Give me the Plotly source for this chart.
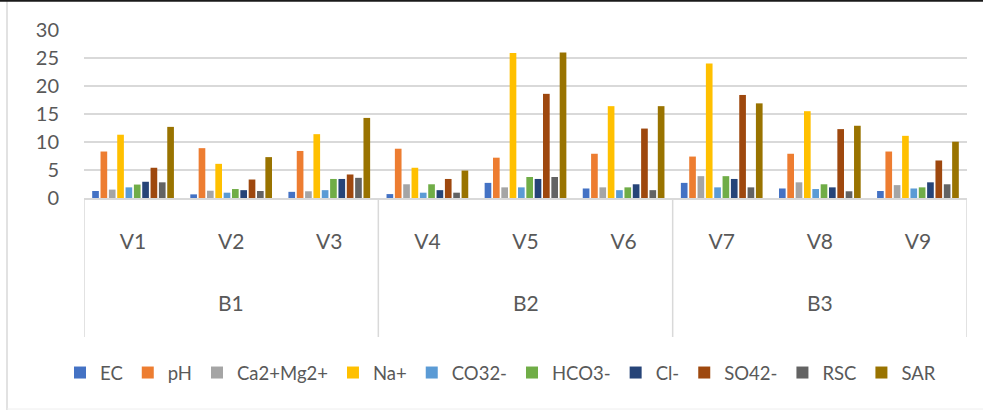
import plotly.graph_objects as go

varieties = ["V1", "V2", "V3", "V4", "V5", "V6", "V7", "V8", "V9"]
blocks = ["B1", "B2", "B3"]
block_centers = ["V2", "V5", "V8"]

EC = [1.25, 0.65, 1.1, 0.7, 2.7, 1.7, 2.7, 1.7, 1.25]
pH = [8.3, 8.9, 8.4, 8.8, 7.2, 7.9, 7.4, 7.9, 8.3]
CaMg = [1.5, 1.3, 1.2, 2.45, 1.9, 1.9, 3.9, 2.8, 2.3]
Na = [11.3, 6.1, 11.4, 5.4, 25.9, 16.4, 24.0, 15.5, 11.1]
CO3 = [1.9, 0.95, 1.4, 0.95, 1.9, 1.4, 1.9, 1.6, 1.7]
HCO3 = [2.4, 1.6, 3.4, 2.45, 3.75, 1.9, 3.9, 2.45, 1.9]
Cl = [2.9, 1.4, 3.4, 1.4, 3.4, 2.45, 3.4, 1.9, 2.8]
SO4 = [5.4, 3.3, 4.2, 3.4, 18.6, 12.4, 18.4, 12.3, 6.7]
RSC = [2.8, 1.25, 3.6, 0.95, 3.75, 1.4, 1.9, 1.2, 2.45]
SAR = [12.7, 7.3, 14.3, 4.9, 26.0, 16.4, 16.9, 12.9, 10.05]

series_names = ["EC", "pH", "Ca2+Mg2+", "Na+", "CO32-", "HCO3-", "Cl-", "SO42-", "RSC", "SAR"]
series_values = [EC, pH, CaMg, Na, CO3, HCO3, Cl, SO4, RSC, SAR]
colors = ["#4472C4", "#ED7D31", "#A5A5A5", "#FFC000", "#5B9BD5",
          "#70AD47", "#264478", "#9E480E", "#636363", "#997300"]

FONT = "Lato"
TXT = "#595959"
GRID = "#D9D9D9"

fig = go.Figure()
for name, vals, col in zip(series_names, series_values, colors):
    fig.add_trace(go.Bar(name=name, x=varieties, y=vals, marker_color=col,
                         marker_line_width=0))

W, H = 983, 410
L, R, T, B = 84, 16, 30, 212
ph = H - T - B
pw = W - L - R

def py(pixel_y):
    return (H - B - pixel_y) / ph

def px(pixel_x):
    return (pixel_x - L) / pw

shapes = []
# category group dividers
for xv in [-0.5, 2.5, 5.5, 8.5]:
    shapes.append(dict(type="line", xref="x", yref="paper", x0=xv, x1=xv,
                       y0=0, y1=py(337), line=dict(color=GRID, width=1.5)))
# chart border
shapes.append(dict(type="line", xref="paper", yref="paper", x0=px(7), x1=px(7),
                   y0=py(0), y1=py(410), line=dict(color=GRID, width=1.5)))
shapes.append(dict(type="line", xref="paper", yref="paper", x0=px(7), x1=px(990),
                   y0=py(409), y1=py(409), line=dict(color="#EEEEEE", width=1)))
shapes.append(dict(type="line", xref="paper", yref="paper", x0=px(0), x1=px(990),
                   y0=py(0.8), y1=py(0.8), line=dict(color="#1a1a1a", width=2)))

annotations = []
for bname, c in zip(blocks, block_centers):
    annotations.append(dict(text=bname, x=c, xref="x", y=py(302), yref="paper",
                            showarrow=False, yanchor="middle", xanchor="center",
                            font=dict(family=FONT, size=21, color=TXT)))

fig.update_layout(
    width=W, height=H,
    margin=dict(l=L, r=R, t=T, b=B, pad=0, autoexpand=False),
    paper_bgcolor="white", plot_bgcolor="white",
    barmode="group", bargap=0.15, bargroupgap=0.2,
    font=dict(family=FONT, color=TXT),
    shapes=shapes, annotations=annotations,
    legend=dict(orientation="h", xref="paper", x=px(60), xanchor="left",
                yref="paper", y=py(373), yanchor="middle",
                font=dict(family=FONT, size=18.5, color=TXT),
                itemwidth=30, tracegroupgap=0, traceorder="normal"),
    showlegend=True,
)
fig.update_yaxes(range=[0, 30], dtick=5, tick0=0, showgrid=True, gridcolor=GRID,
                 gridwidth=1.5, zeroline=False, showline=False,
                 ticks="", ticklabelstandoff=24,
                 tickfont=dict(family=FONT, size=20, color=TXT), fixedrange=True)
fig.update_xaxes(type="category", categoryorder="array", categoryarray=varieties,
                 range=[-0.5, 8.5], showgrid=False, showline=True, linecolor=GRID,
                 linewidth=1.5, ticks="", ticklabelstandoff=24,
                 tickfont=dict(family=FONT, size=21, color=TXT), fixedrange=True)

fig.write_html("out.html", config={"displayModeBar": False},
               post_script="document.body.style.margin='0';document.body.style.padding='0';")
